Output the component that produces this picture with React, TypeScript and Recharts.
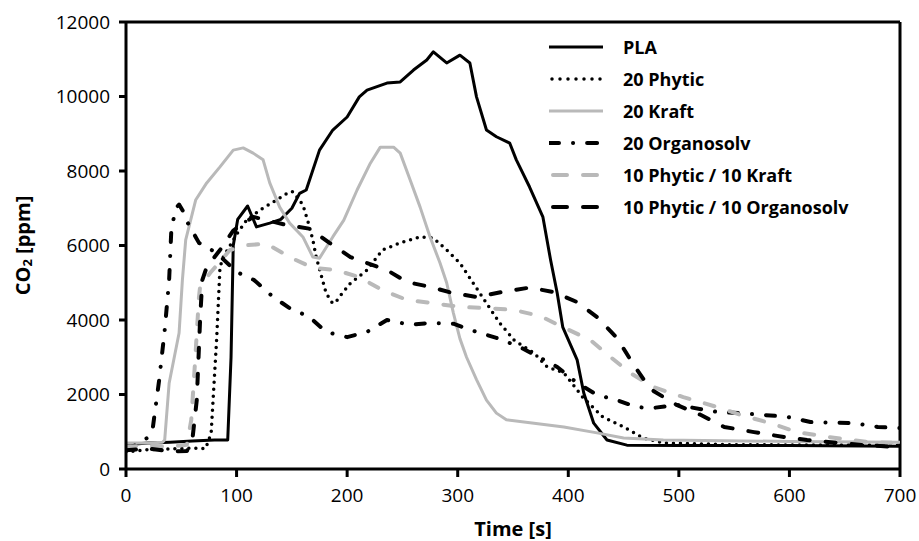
import React from 'react';
import { LineChart, Line, XAxis, YAxis, Legend, ReferenceLine } from 'recharts';

// ---- data (time in s, CO2 in ppm) ----
const plaTime = [0, 20, 40, 60, 80, 92, 95, 97, 101, 110, 118, 130, 140, 150, 157, 163, 175, 187, 200, 211, 218, 236, 248, 260, 272, 278, 290, 302, 311, 317, 326, 335, 347, 353, 365, 377, 384, 390, 395, 408, 414, 423, 435, 453, 500, 600, 700];
const plaCO2 = [650, 700, 720, 750, 780, 780, 3000, 6000, 6700, 7060, 6500, 6600, 6700, 7000, 7400, 7490, 8560, 9100, 9450, 9990, 10170, 10360, 10390, 10710, 10980, 11200, 10900, 11110, 10900, 9990, 9100, 8920, 8750, 8300, 7570, 6770, 5610, 4720, 3810, 2930, 2040, 1230, 780, 640, 630, 630, 610];

const phyticTime = [0, 20, 40, 60, 72, 77, 82, 85, 88, 100, 109, 121, 136, 148, 151, 160, 165, 169, 172, 177, 181, 186, 189, 193, 203, 218, 232, 248, 266, 278, 290, 302, 314, 326, 338, 351, 369, 381, 396, 413, 431, 450, 468, 486, 550, 700];
const phyticCO2 = [460, 520, 540, 560, 550, 960, 3500, 5420, 5690, 6300, 6680, 6950, 7220, 7440, 7440, 7090, 6600, 6150, 5690, 5150, 4720, 4480, 4450, 4620, 4990, 5340, 5880, 6070, 6230, 6200, 5880, 5530, 4990, 4450, 3920, 3460, 3110, 2740, 2580, 1930, 1400, 1130, 830, 700, 650, 640];

const kraftTime = [0, 20, 33, 35, 39, 48, 51, 54, 63, 73, 85, 97, 106, 115, 124, 130, 139, 148, 160, 169, 175, 187, 197, 209, 221, 230, 242, 248, 257, 266, 275, 284, 290, 296, 302, 308, 317, 326, 335, 344, 369, 396, 426, 450, 486, 600, 700];
const kraftCO2 = [700, 700, 720, 780, 2300, 3650, 5070, 6150, 7220, 7680, 8110, 8560, 8620, 8480, 8300, 7680, 7030, 6600, 6230, 5690, 5660, 6230, 6680, 7490, 8210, 8640, 8640, 8480, 7760, 7030, 6230, 5530, 5000, 4200, 3500, 3000, 2400, 1850, 1500, 1320, 1230, 1130, 970, 830, 780, 740, 720];

const organoTime = [0, 10, 20, 24, 30, 35, 39, 41, 45, 48, 52, 56, 66, 82, 100, 116, 133, 148, 166, 181, 200, 218, 236, 257, 275, 296, 317, 335, 356, 373, 390, 408, 426, 444, 462, 477, 498, 535, 556, 577, 598, 619, 658, 680, 700];
const organoCO2 = [550, 650, 850, 1050, 2390, 3730, 5070, 6420, 7000, 7100, 6900, 6600, 6070, 5800, 5290, 5070, 4620, 4320, 4080, 3680, 3540, 3680, 4000, 3870, 3920, 3900, 3680, 3520, 3280, 3010, 2740, 2310, 1990, 1850, 1660, 1640, 1720, 1530, 1500, 1450, 1400, 1260, 1230, 1130, 1100];

const phyKraftTime = [0, 20, 40, 55, 59, 62, 66, 67, 76, 94, 110, 127, 148, 169, 190, 211, 232, 254, 278, 302, 326, 351, 375, 395, 420, 438, 456, 477, 504, 535, 556, 583, 607, 635, 671, 700];
const phyKraftCO2 = [600, 620, 600, 650, 1310, 2660, 4620, 4890, 5260, 5880, 6010, 6050, 5690, 5400, 5340, 5150, 4800, 4540, 4450, 4350, 4320, 4270, 4100, 3810, 3460, 3010, 2580, 2200, 1930, 1660, 1450, 1230, 990, 860, 725, 700];

const phyOrganoTime = [0, 20, 40, 55, 60, 64, 67, 69, 73, 85, 97, 115, 127, 145, 166, 184, 203, 218, 236, 254, 275, 296, 317, 340, 365, 387, 408, 426, 444, 459, 474, 498, 520, 541, 568, 595, 616, 644, 667, 700];
const phyOrganoCO2 = [500, 550, 470, 480, 780, 1850, 4000, 5070, 5420, 5880, 6400, 6770, 6680, 6550, 6450, 6070, 5690, 5530, 5340, 5020, 4890, 4720, 4620, 4750, 4870, 4750, 4480, 4080, 3520, 2800, 2150, 1720, 1450, 1130, 990, 860, 780, 700, 640, 590];

const seriesNames = ['PLA', '20 Phytic', '20 Kraft', '20 Organosolv', '10 Phytic / 10 Kraft', '10 Phytic / 10 Organosolv'];
const xTicks = [0, 100, 200, 300, 400, 500, 600, 700];
const yTicks = [0, 2000, 4000, 6000, 8000, 10000, 12000];

const toPoints = (t: number[], v: number[]) => t.map((x, i) => ({ t: x, v: v[i] }));

const GRAY = '#b9b9b9';
const FONT = '"Open Sans", "DejaVu Sans", sans-serif';

const series = [
  { name: seriesNames[0], data: toPoints(plaTime, plaCO2), color: '#000', width: 3, dash: undefined as string | undefined, cap: 'butt' },
  { name: seriesNames[1], data: toPoints(phyticTime, phyticCO2), color: '#000', width: 3.5, dash: '0 7', cap: 'round' },
  { name: seriesNames[2], data: toPoints(kraftTime, kraftCO2), color: GRAY, width: 3, dash: undefined, cap: 'butt' },
  { name: seriesNames[3], data: toPoints(organoTime, organoCO2), color: '#000', width: 4, dash: '9 14 0.1 14', cap: 'round' },
  { name: seriesNames[4], data: toPoints(phyKraftTime, phyKraftCO2), color: GRAY, width: 4, dash: '10 16', cap: 'round' },
  { name: seriesNames[5], data: toPoints(phyOrganoTime, phyOrganoCO2), color: '#000', width: 4, dash: '10 16', cap: 'round' },
];

const legendDash = ['', '0 8', '', '10 14 0.1 14', '14 16', '14 16'];

const renderLegend = () => (
  <div style={{ fontFamily: FONT, fontWeight: 700, fontSize: 18, color: '#000' }}>
    {series.map((s, i) => (
      <div key={s.name} style={{ display: 'flex', alignItems: 'center', height: 32 }}>
        <svg width={58} height={12} style={{ display: 'block' }}>
          <line x1={i === 1 ? 3 : i >= 4 ? 4 : 0} y1={6} x2={i >= 4 ? 56 : 54} y2={6} stroke={s.color} strokeWidth={s.width}
            strokeDasharray={legendDash[i] || undefined} strokeLinecap={s.cap as any} />
        </svg>
        <span style={{ marginLeft: 16, whiteSpace: 'nowrap', lineHeight: '32px' }}>{s.name}</span>
      </div>
    ))}
  </div>
);

const YLabel = (props: any) => {
  const vb = props.viewBox || { x: 0, y: 22, width: 126, height: 447 };
  const cx = vb.x + 22;
  const cy = vb.y + vb.height / 2;
  return (
    <text x={cx} y={cy} transform={`rotate(-90 ${cx} ${cy})`} textAnchor="middle" dominantBaseline="central"
      fontFamily={FONT} fontWeight={700} fontSize={20} fill="#000">
      CO<tspan fontSize={13} dy={5}>2</tspan><tspan dy={-5}> [ppm]</tspan>
    </text>
  );
};

const XLabel = (props: any) => {
  const vb = props.viewBox || { x: 126, y: 469, width: 774, height: 72 };
  return (
    <text x={vb.x + vb.width / 2} y={vb.y + 67} textAnchor="middle" fontFamily={FONT} fontWeight={700} fontSize={20} fill="#000">
      Time [s]
    </text>
  );
};

export default function App() {
  return (
    <div style={{ position: 'absolute', left: 0, top: 0, width: 919, height: 541, background: '#fff' }}>
      <LineChart width={919} height={541} margin={{ top: 22, right: 19, bottom: 0, left: 0 }}>
        <XAxis type="number" dataKey="t" domain={[0, 700]} ticks={xTicks} allowDataOverflow
          axisLine={{ stroke: '#000', strokeWidth: 3 }} tickLine={{ stroke: '#000', strokeWidth: 3 }}
          tickSize={8} tickMargin={12} height={72}
          tick={{ fill: '#000', fontSize: 19, fontFamily: FONT }} label={<XLabel />} />
        <YAxis type="number" domain={[0, 12000]} ticks={yTicks} allowDataOverflow width={126}
          axisLine={{ stroke: '#000', strokeWidth: 3 }} tickLine={{ stroke: '#000', strokeWidth: 3 }}
          tickSize={7} tickMargin={9}
          tick={{ fill: '#000', fontSize: 19, fontFamily: FONT }} label={<YLabel />} />
        <ReferenceLine y={12000} stroke="#000" strokeWidth={3} />
        <ReferenceLine x={700} stroke="#000" strokeWidth={3} />
        {series.map((s) => (
          <Line key={s.name} data={s.data} dataKey="v" name={s.name} type="linear" stroke={s.color}
            strokeWidth={s.width} strokeDasharray={s.dash} strokeLinecap={s.cap as any} strokeLinejoin="round"
            dot={false} activeDot={false} isAnimationActive={false} />
        ))}
        <Legend layout="vertical" verticalAlign="middle" align="center" content={renderLegend}
          wrapperStyle={{ position: 'absolute', left: 549, top: 31, width: 340, height: 200 }} />
      </LineChart>
    </div>
  );
}
